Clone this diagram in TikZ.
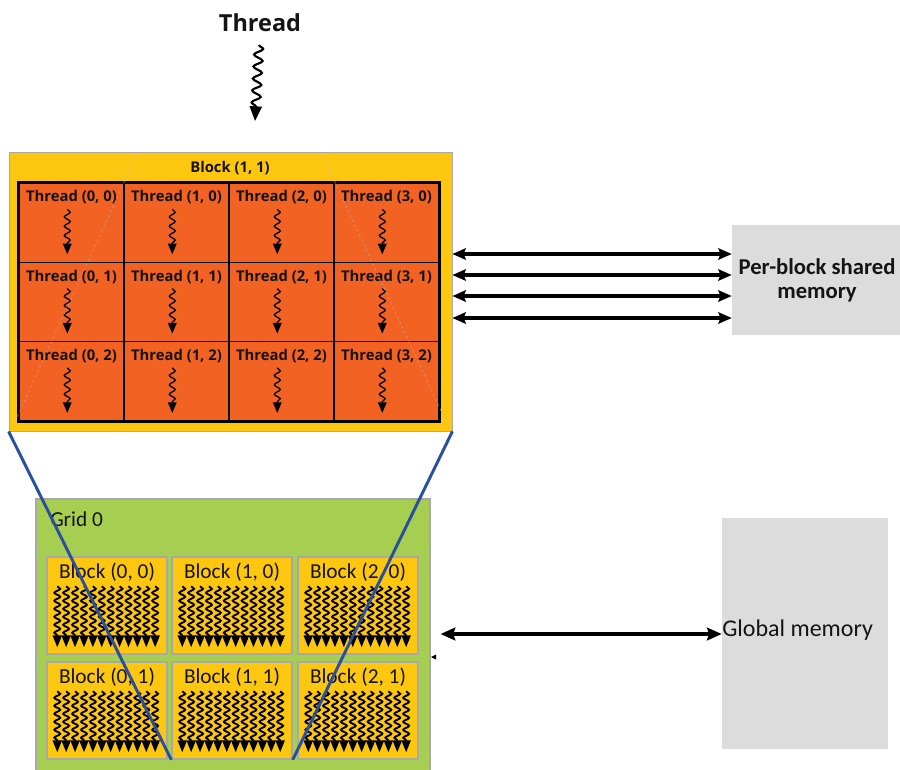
\documentclass[tikz,border=0pt]{standalone}
\usepackage{fontspec}
\newfontfamily\osans{Open Sans}
\newfontfamily\carl{Carlito}
\usetikzlibrary{fit,arrows.meta,decorations.pathmorphing,calc}

\definecolor{blockyellow}{HTML}{FDC70F}
\definecolor{threadorange}{HTML}{F26222}
\definecolor{gridgreen}{HTML}{A6CE50}
\definecolor{memgray}{HTML}{DCDCDC}
\definecolor{zoomblue}{HTML}{2A4F9F}
\definecolor{edgegray}{HTML}{A8A8A8}
\definecolor{inkblack}{HTML}{141414}

\begin{document}
\begin{tikzpicture}[x=0.75pt,y=-0.75pt,
  every node/.style={text=inkblack},
  bigblock/.style={fill=blockyellow,draw=edgegray,line width=0.6pt,inner sep=0pt},
  cellbox/.style={fill=threadorange,draw=black,line width=1.1pt,inner sep=0pt},
  gridbox/.style={fill=gridgreen,draw=edgegray,line width=0.8pt,inner sep=0pt},
  smallblock/.style={fill=blockyellow,draw=edgegray,line width=1.1pt,inner sep=0pt},
  membox/.style={fill=memgray,draw=none,inner sep=0pt},
  threadlbl/.style={font=\osans\bfseries\fontsize{11.1pt}{13pt}\selectfont,inner sep=0pt},
  blocklbl/.style={font=\carl\fontsize{16pt}{18pt}\selectfont,inner sep=0pt},
  wig/.style={line width=1pt,decorate,
    decoration={snake,amplitude=2.2pt,segment length=7pt,post length=6pt},
    -{Triangle[width=6.5pt,length=8pt]}},
  gwig/.style={line width=1.4pt,decorate,
    decoration={snake,amplitude=2.2pt,segment length=6pt,post length=7pt},
    -{Triangle[width=6.8pt,length=9pt]}},
  titlewig/.style={line width=1.6pt,decorate,
    decoration={snake,amplitude=3.3pt,segment length=9pt,post length=9pt},
    -{Triangle[width=9pt,length=11pt]}},
  dbl/.style={line width=2.3pt,{Stealth[length=10pt,width=8.5pt,inset=1.5pt]}-{Stealth[length=10pt,width=8.5pt,inset=1.5pt]}},
  dblthick/.style={line width=2.8pt,{Stealth[length=11pt,width=9.5pt,inset=1.5pt]}-{Stealth[length=11pt,width=9.5pt,inset=1.5pt]}},
  zoomline/.style={draw=zoomblue,line width=2.2pt},
  faint/.style={draw=gray!55,line width=0.5pt,dash pattern=on 2pt off 2pt,opacity=0.6}
]
\useasboundingbox (0,0) rectangle (900,769);

% ---------- single thread ----------
\node[font=\osans\bfseries\fontsize{17.6pt}{20pt}\selectfont,inner sep=0pt] (ttl) at (260,23) {Thread};
\coordinate (tws) at (259,45);
\coordinate (twe) at (255,121);
\draw[titlewig] (tws) -- (twe);

% ---------- block of threads ----------
\node[bigblock,fit={(9,152)(452,431)}] (blk) {};
\node[threadlbl] (blklbl) at (230,168) {Block (1, 1)};
\foreach \c in {0,...,3}{
  \foreach \r in {0,1,2}{
    \pgfmathsetmacro\xa{19+105*\c}
    \pgfmathsetmacro\ya{183+79.33*\r}
    \node[cellbox,fit={(\xa,\ya)(\xa+105,\ya+79.33)}] (t\c\r) {};
    \node[threadlbl] at ($(t\c\r.north)+(0,15)$) {Thread (\c, \r)};
    \draw[wig] ($(t\c\r.north west)+(49,27)$) -- ($(t\c\r.north west)+(49,72)$);
  }
}
\draw[black,line width=1.6pt] (t00.north west) rectangle (t32.south east);
% faint guide lines across the block
\coordinate (fa1) at (138,152); \coordinate (fa2) at (13,426);
\coordinate (fb1) at (321,152); \coordinate (fb2) at (449,428);
\draw[faint] (fa1) -- (fa2);
\draw[faint] (fb1) -- (fb2);

% ---------- per-block shared memory ----------
\node[membox,fit={(732,225)(900,335)}] (shm) {};
\node[font=\carl\bfseries\fontsize{17pt}{18pt}\selectfont,align=center,inner sep=0pt] at (817,280) {Per-block shared\\memory};
\foreach \yy in {254,275,296,318}{
  \draw[dbl] (blk.east |- 0,\yy) -- (shm.west |- 0,\yy);
}

% ---------- grid of blocks ----------
\node[gridbox,fit={(36,499)(430,772)}] (grid) {};
\node[blocklbl,anchor=west] at (50,519) {Grid 0};
\foreach \c/\xa in {0/47,1/172,2/298}{
  \foreach \r/\ya in {0/557,1/662}{
    \node[smallblock,fit={(\xa,\ya)(\xa+120,\ya+97)}] (g\c\r) {};
    \node[blocklbl] at ($(g\c\r.north)+(0,16)$) {Block (\c, \r)};
    \foreach \k in {0,...,11}{
      \draw[gwig] ($(g\c\r.north west)+(11+\k*8.9,30)$) -- ($(g\c\r.north west)+(11+\k*8.9,91)$);
    }
  }
}
\fill[black] (431,657) -- (436,654.5) -- (436,659.5) -- cycle;

% ---------- global memory ----------
\node[membox,fit={(722,518)(888,749)}] (gmem) {};
\node[font=\carl\fontsize{18pt}{20pt}\selectfont,anchor=west,inner sep=0pt] at (722,630) {Global memory};
\draw[dblthick] (grid.east |- 0,634) ++(10,0) coordinate (gl) (gl) -- (gmem.west |- 0,634);

% ---------- zoom lines from the grid block to its detail ----------
\draw[zoomline] (blk.south west) -- (g11.south west);
\draw[zoomline] (blk.south east) -- (g11.south east);
\end{tikzpicture}
\end{document}
